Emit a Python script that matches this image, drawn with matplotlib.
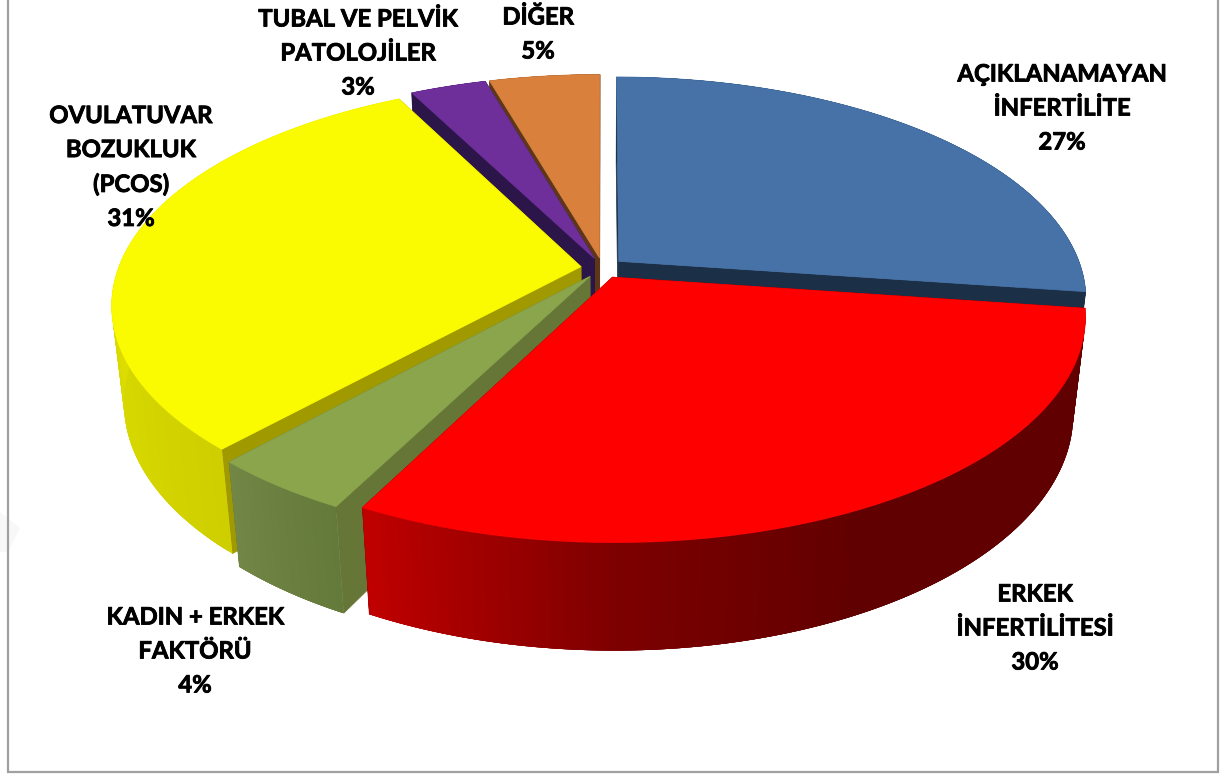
import numpy as np
import matplotlib

matplotlib.use("Agg")
import matplotlib.pyplot as plt
import matplotlib.patheffects as pe
from matplotlib.patches import Polygon, Rectangle

# shares, the printed labels are the rounded ones
shares = [27.2, 30.4, 4.2, 30.6, 3.1, 4.5]
pct_labels = ["27%", "30%", "4%", "31%", "3%", "5%"]
names = [
    "AÇIKLANAMAYAN\nİNFERTİLİTE",
    "ERKEK\nİNFERTİLİTESİ",
    "KADIN + ERKEK\nFAKTÖRÜ",
    "OVULATUVAR\nBOZUKLUK\n(PCOS)",
    "TUBAL VE PELVİK\nPATOLOJİLER",
    "DİĞER",
]
label_pos = [(1062, 108), (1035, 628), (195, 651), (131, 167), (358, 53), (538, 34)]

top_colors = ["#4672A8", "#FF0000", "#8AA54C", "#FAFA00", "#6E2F9B", "#D8803C"]
radial_colors = ["#1B2F47", "#600000", "#667637", "#A09A00", "#2C1548", "#5E3718"]
# wall colour stops, going clockwise along the rim of each slice
wall_stops = [
    ["#1B2F47", "#1B2F47"],
    ["#600000", "#600000", "#600000", "#7D0000", "#C00000"],
    ["#647A3A", "#728646"],
    ["#CFCF00", "#E0E000", "#E8E800"],
    ["#2C1548", "#2C1548"],
    ["#5E3718", "#5E3718"],
]
draw_order = [5, 4, 0, 3, 2, 1]

# projection constants, pixels of the 1230x774 picture
CX, CY = 602.5, 268
R, H, DEPTH = 462.5, 217.4, 98.7
K, M = 0.168, 0.025
EXPLODE = 0.047


def project(x, y, z=0.0):
    s = 1 / (1 + K * np.asarray(y) + M * z)
    return CX + R * np.asarray(x) * s, CY + (-H * np.asarray(y) + DEPTH * z) * s


def hex_rgb(c):
    return np.array(matplotlib.colors.to_rgb(c))


fig = plt.figure(figsize=(12.3, 7.74), dpi=100)
ax = fig.add_axes([0, 0, 1, 1])
ax.set_xlim(0, 1230)
ax.set_ylim(774, 0)
ax.axis("off")

ax.add_patch(Rectangle((8, -10), 1210, 782, fill=False, ec="#A0A0A0", lw=1.6))
# faint smudge from the page behind the chart
ax.add_patch(Polygon([(0, 512), (20, 528), (8, 552), (0, 552)], fc="#F8F8F8", ec="none", zorder=0))

edges = np.concatenate([[0], np.cumsum(shares)]) / sum(shares) * 2 * np.pi

for i in draw_order:
    a0, a1 = edges[i], edges[i + 1]
    mid = (a0 + a1) / 2
    ox, oy = EXPLODE * np.sin(mid), EXPLODE * np.cos(mid)
    t = np.linspace(a0, a1, 160)
    rx, ry = ox + np.sin(t), oy + np.cos(t)

    tx, ty = project(rx, ry, 0.0)
    bx, by = project(rx, ry, 1.0)
    ax_t, ay_t = project(ox, oy, 0.0)
    ax_b, ay_b = project(ox, oy, 1.0)

    # side faces from the centre out to the rim
    for j in (0, -1):
        ax.add_patch(Polygon(
            [(ax_t, ay_t), (tx[j], ty[j]), (bx[j], by[j]), (ax_b, ay_b)],
            fc=radial_colors[i], ec=radial_colors[i], lw=0.5,
        ))

    # rim wall in overlapping strips so it can shade along the arc without seams
    stops = np.array([hex_rgb(c) for c in wall_stops[i]])
    pos = np.linspace(0, 1, len(stops))
    for j in range(len(t) - 1):
        f = j / (len(t) - 2)
        col = [np.interp(f, pos, stops[:, c]) for c in range(3)]
        k = min(j + 4, len(t) - 1)
        ax.add_patch(Polygon(
            list(zip(tx[j:k + 1], ty[j:k + 1])) + list(zip(bx[j:k + 1], by[j:k + 1]))[::-1],
            fc=col, ec="none", lw=0,
        ))

    top = [(ax_t, ay_t)] + list(zip(tx, ty))
    ax.add_patch(Polygon(top, fc=top_colors[i], ec=top_colors[i], lw=0.5))

for name, pct, (lx, ly) in zip(names, pct_labels, label_pos):
    ax.text(lx, ly, name + "\n" + pct, ha="center", va="center", ma="center",
            family="Lato", weight="bold", fontsize=17.2, color="black", linespacing=1.58,
            path_effects=[pe.withStroke(linewidth=0.6, foreground="black")])

fig.savefig("out.png", dpi=100)
